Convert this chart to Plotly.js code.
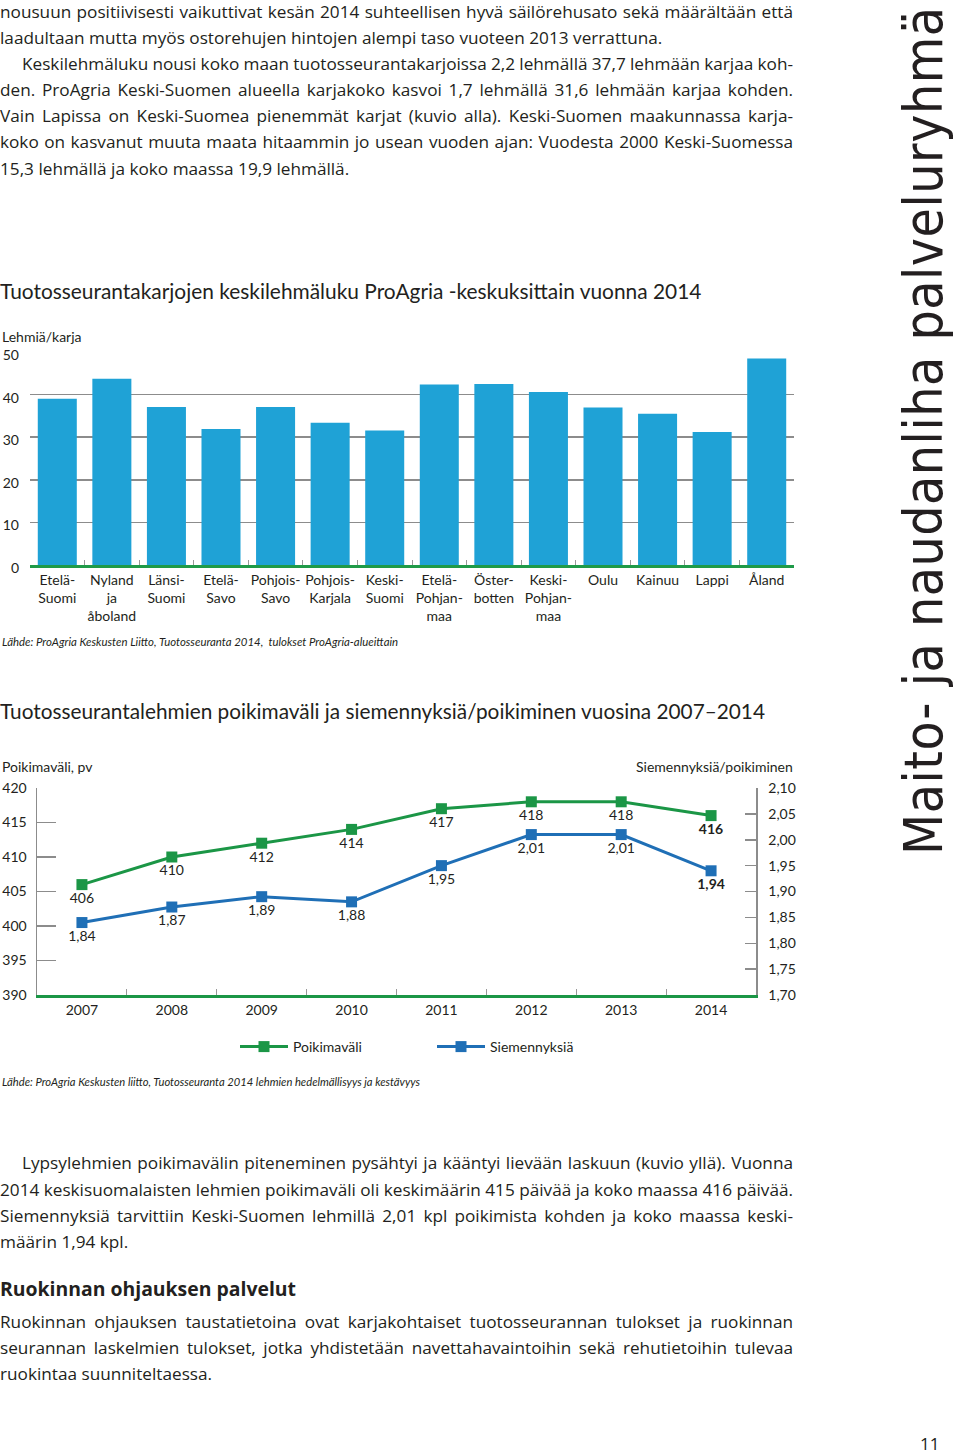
<!DOCTYPE html>
<html><head><meta charset="utf-8">
<script src="https://cdn.plot.ly/plotly-3.0.1.min.js"></script>
<style>
html,body{margin:0;padding:0;background:#fff}
#page{position:relative;width:960px;height:1455px;overflow:hidden;font-family:'Open Sans',Lato,sans-serif;color:#231f20}
.ln{position:absolute;left:0;width:793px;height:26px;line-height:26px;font-size:17.2px;word-spacing:0;white-space:nowrap}
.j{text-align:justify;text-align-last:justify;word-spacing:-1.5px}
#side{position:absolute;left:897px;top:855px;transform-origin:0 0;transform:rotate(-90deg);white-space:nowrap;font-family:'Liberation Sans Narrow','DejaVu Sans Condensed',sans-serif;font-size:53px;line-height:53px;letter-spacing:0.55px;color:#231f20}
#c1{position:absolute;left:0;top:275px;width:800px;height:380px}
#c2{position:absolute;left:0;top:695px;width:800px;height:400px}
</style></head>
<body><div id="page">
<div class="ln j" style="top:-1px">nousuun positiivisesti vaikuttivat kesän 2014 suhteellisen hyvä säilörehusato sekä määrältään että</div>
<div class="ln" style="top:25px">laadultaan mutta myös ostorehujen hintojen alempi taso vuoteen 2013 verrattuna.</div>
<div class="ln j" style="top:51px;left:22px;width:771px">Keskilehmäluku nousi koko maan tuotosseurantakarjoissa 2,2 lehmällä 37,7 lehmään karjaa koh-</div>
<div class="ln j" style="top:77px">den. ProAgria Keski-Suomen alueella karjakoko kasvoi 1,7 lehmällä 31,6 lehmään karjaa kohden.</div>
<div class="ln j" style="top:103px">Vain Lapissa on Keski-Suomea pienemmät karjat (kuvio alla). Keski-Suomen maakunnassa karja-</div>
<div class="ln j" style="top:129px">koko on kasvanut muuta maata hitaammin jo usean vuoden ajan: Vuodesta 2000 Keski-Suomessa</div>
<div class="ln" style="top:156px">15,3 lehmällä ja koko maassa 19,9 lehmällä.</div>

<div id="c1"></div>
<div id="c2"></div>

<div class="ln j" style="top:1150px;left:22px;width:771px">Lypsylehmien poikimavälin piteneminen pysähtyi ja kääntyi lievään laskuun (kuvio yllä). Vuonna</div>
<div class="ln j" style="top:1177px">2014 keskisuomalaisten lehmien poikimaväli oli keskimäärin 415 päivää ja koko maassa 416 päivää.</div>
<div class="ln j" style="top:1203px">Siemennyksiä tarvittiin Keski-Suomen lehmillä 2,01 kpl poikimista kohden ja koko maassa keski-</div>
<div class="ln" style="top:1229px">määrin 1,94 kpl.</div>
<div class="ln" style="top:1276px;font-weight:bold;font-size:19.4px">Ruokinnan ohjauksen palvelut</div>
<div class="ln j" style="top:1309px">Ruokinnan ohjauksen taustatietoina ovat karjakohtaiset tuotosseurannan tulokset ja ruokinnan</div>
<div class="ln j" style="top:1335px">seurannan laskelmien tulokset, jotka yhdistetään navettahavaintoihin sekä rehutietoihin tulevaa</div>
<div class="ln" style="top:1361px">ruokintaa suunniteltaessa.</div>
<div class="ln" style="top:1431px;left:920px;width:40px">11</div>
<div id="side">Maito- ja naudanliha palveluryhmä</div>
</div>
<script>
// ---- Chart 1 data ----
const regions = ['Etelä-<br>Suomi','Nyland<br>ja<br>åboland','Länsi-<br>Suomi','Etelä-<br>Savo','Pohjois-<br>Savo','Pohjois-<br>Karjala','Keski-<br>Suomi','Etelä-<br>Pohjan-<br>maa','Öster-<br>botten','Keski-<br>Pohjan-<br>maa','Oulu','Kainuu','Lappi','Åland'];
const cowsPerHerd = [39.0, 43.7, 37.1, 31.9, 37.1, 33.4, 31.6, 42.4, 42.5, 40.6, 37.0, 35.5, 31.2, 48.5];
const herdTicks = [0, 10, 20, 30, 40, 50];

// ---- Chart 2 data ----
const years = ['2007','2008','2009','2010','2011','2012','2013','2014'];
const calvingInterval = [406, 410, 412, 414, 417, 418, 418, 416];
const insemPerCalving = [1.84, 1.87, 1.89, 1.88, 1.95, 2.01, 2.01, 1.94];
const intervalTicks = [390, 395, 400, 405, 410, 415, 420];
const insemTicks = [1.70, 1.75, 1.80, 1.85, 1.90, 1.95, 2.00, 2.05, 2.10];

const FONT = 'Lato, "Open Sans", sans-serif';
const TXT = '#231f20';

// Chart 1
(function(){
  const W = 800, H = 380, L = 30, R = 6, T = 77, B = 90;
  const pw = W - L - R, ph = H - T - B;
  const px = v => (v - L) / pw;           // page x -> paper x
  const py = v => (ph + T - v) / ph;      // div y -> paper y
  Plotly.newPlot('c1', [{
    type: 'bar', x: regions, y: cowsPerHerd,
    marker: {color: '#1fa2d6'}, hoverinfo: 'x+y'
  }], {
    width: W, height: H, margin: {l: L, r: R, t: T, b: B},
    paper_bgcolor: 'rgba(0,0,0,0)', plot_bgcolor: 'rgba(0,0,0,0)',
    font: {family: FONT, color: TXT, size: 14},
    bargap: 0.285, showlegend: false,
    title: {text: 'Tuotosseurantakarjojen keskilehmäluku ProAgria -keskuksittain vuonna 2014',
      font: {size: 20.9, color: TXT, family: FONT}, x: 0, xanchor: 'left', xref: 'container',
      y: 1 - 17 / H, yanchor: 'middle', yref: 'container'},
    xaxis: {type: 'category', showline: true, linecolor: '#1f9a48', linewidth: 3, tickangle: 0,
      ticks: 'inside', tickson: 'boundaries', ticklen: 5, tickcolor: '#999', ticklabelstandoff: 0,
      tickfont: {size: 14, color: TXT}, showgrid: false, fixedrange: true, automargin: false},
    yaxis: {range: [0, 50], tickvals: herdTicks, showgrid: true, gridcolor: '#8c8c8c', gridwidth: 1.5,
      zeroline: false, showline: false, ticks: '', ticklabelstandoff: 10, ticklabelshift: 3,
      tickfont: {size: 14, color: TXT}, fixedrange: true},
    annotations: [
      {text: 'Lehmiä/karja', xref: 'paper', yref: 'paper', x: px(0), y: py(336 - 275),
        xanchor: 'left', yanchor: 'middle', showarrow: false, font: {size: 14, color: TXT}},
      {text: '<i>Lähde: ProAgria Keskusten Liitto, Tuotosseuranta 2014,  tulokset ProAgria-alueittain</i>',
        xref: 'paper', yref: 'paper', x: px(0), y: py(641 - 275),
        xanchor: 'left', yanchor: 'middle', showarrow: false, font: {size: 11.4, color: TXT}}
    ]
  }, {displayModeBar: false, staticPlot: true});
})();

// Chart 2
(function(){
  const W = 800, H = 400, L = 37, R = 44, T = 93, B = 100;
  const pw = W - L - R, ph = H - T - B;
  const px = v => (v - L) / pw;
  const py = v => (ph + T - v) / ph;
  const fmt = (v, d, last) => {
    const s = v.toFixed(d).replace('.', ',');
    return last ? '<b>' + s + '</b>' : s;
  };
  const green = '#1b9646', blue = '#1f6fb6';
  Plotly.newPlot('c2', [
    {type: 'scatter', mode: 'lines+markers+text', name: 'Poikimaväli', x: years, y: calvingInterval,
      line: {color: green, width: 3}, marker: {symbol: 'square', size: 11, color: green},
      text: calvingInterval.map((v, i) => fmt(v, 0, i === calvingInterval.length - 1)),
      textposition: 'bottom center', textfont: {size: 14, color: TXT}, cliponaxis: false},
    {type: 'scatter', mode: 'lines+markers+text', name: 'Siemennyksiä', x: years, y: insemPerCalving, yaxis: 'y2',
      line: {color: blue, width: 3}, marker: {symbol: 'square', size: 11, color: blue},
      text: insemPerCalving.map((v, i) => fmt(v, 2, i === insemPerCalving.length - 1)),
      textposition: 'bottom center', textfont: {size: 14, color: TXT}, cliponaxis: false}
  ], {
    width: W, height: H, margin: {l: L, r: R, t: T, b: B},
    paper_bgcolor: 'rgba(0,0,0,0)', plot_bgcolor: 'rgba(0,0,0,0)',
    font: {family: FONT, color: TXT, size: 14}, separators: ', ',
    title: {text: 'Tuotosseurantalehmien poikimaväli ja siemennyksiä/poikiminen vuosina 2007–2014',
      font: {size: 20.8, color: TXT, family: FONT}, x: 0, xanchor: 'left', xref: 'container',
      y: 1 - 17 / H, yanchor: 'middle', yref: 'container'},
    showlegend: true,
    legend: {orientation: 'h', x: px(235), xanchor: 'left', y: py(1047 - 695), yanchor: 'middle',
      font: {size: 14, color: TXT}, bgcolor: 'rgba(0,0,0,0)', itemwidth: 48,
      entrywidth: 134, entrywidthmode: 'pixels'},
    xaxis: {type: 'category', range: [-0.5, 7.5], showline: true, linecolor: green, linewidth: 3,
      ticks: 'inside', tickson: 'boundaries', ticklen: 6, tickcolor: '#999', showgrid: false,
      tickfont: {size: 14, color: TXT}, fixedrange: true},
    yaxis: {range: [390, 420], tickvals: intervalTicks, showgrid: false, zeroline: false,
      showline: true, linecolor: '#8c8c8c', linewidth: 1.5, ticks: 'inside', ticklen: 19, tickcolor: '#8c8c8c',
      tickwidth: 1.5, ticklabelstandoff: 6, tickfont: {size: 14, color: TXT}, fixedrange: true},
    yaxis2: {range: [1.70, 2.10], tickvals: insemTicks, tickformat: '.2f', overlaying: 'y', side: 'right',
      showgrid: false, zeroline: false, showline: true, linecolor: '#8c8c8c', linewidth: 1.5,
      ticks: 'inside', ticklen: 11, tickcolor: '#8c8c8c', tickwidth: 1.5, ticklabelstandoff: 8,
      tickfont: {size: 14, color: TXT}, fixedrange: true},
    annotations: [
      {text: 'Poikimaväli, pv', xref: 'paper', yref: 'paper', x: px(0), y: py(766 - 695),
        xanchor: 'left', yanchor: 'middle', showarrow: false, font: {size: 14, color: TXT}},
      {text: 'Siemennyksiä/poikiminen', xref: 'paper', yref: 'paper', x: px(795), y: py(766 - 695),
        xanchor: 'right', yanchor: 'middle', showarrow: false, font: {size: 14, color: TXT}},
      {text: '<i>Lähde: ProAgria Keskusten liitto, Tuotosseuranta 2014 lehmien hedelmällisyys ja kestävyys</i>',
        xref: 'paper', yref: 'paper', x: px(0), y: py(1081 - 695),
        xanchor: 'left', yanchor: 'middle', showarrow: false, font: {size: 11.2, color: TXT}}
    ]
  }, {displayModeBar: false, staticPlot: true});
})();
</script>
</body></html>
